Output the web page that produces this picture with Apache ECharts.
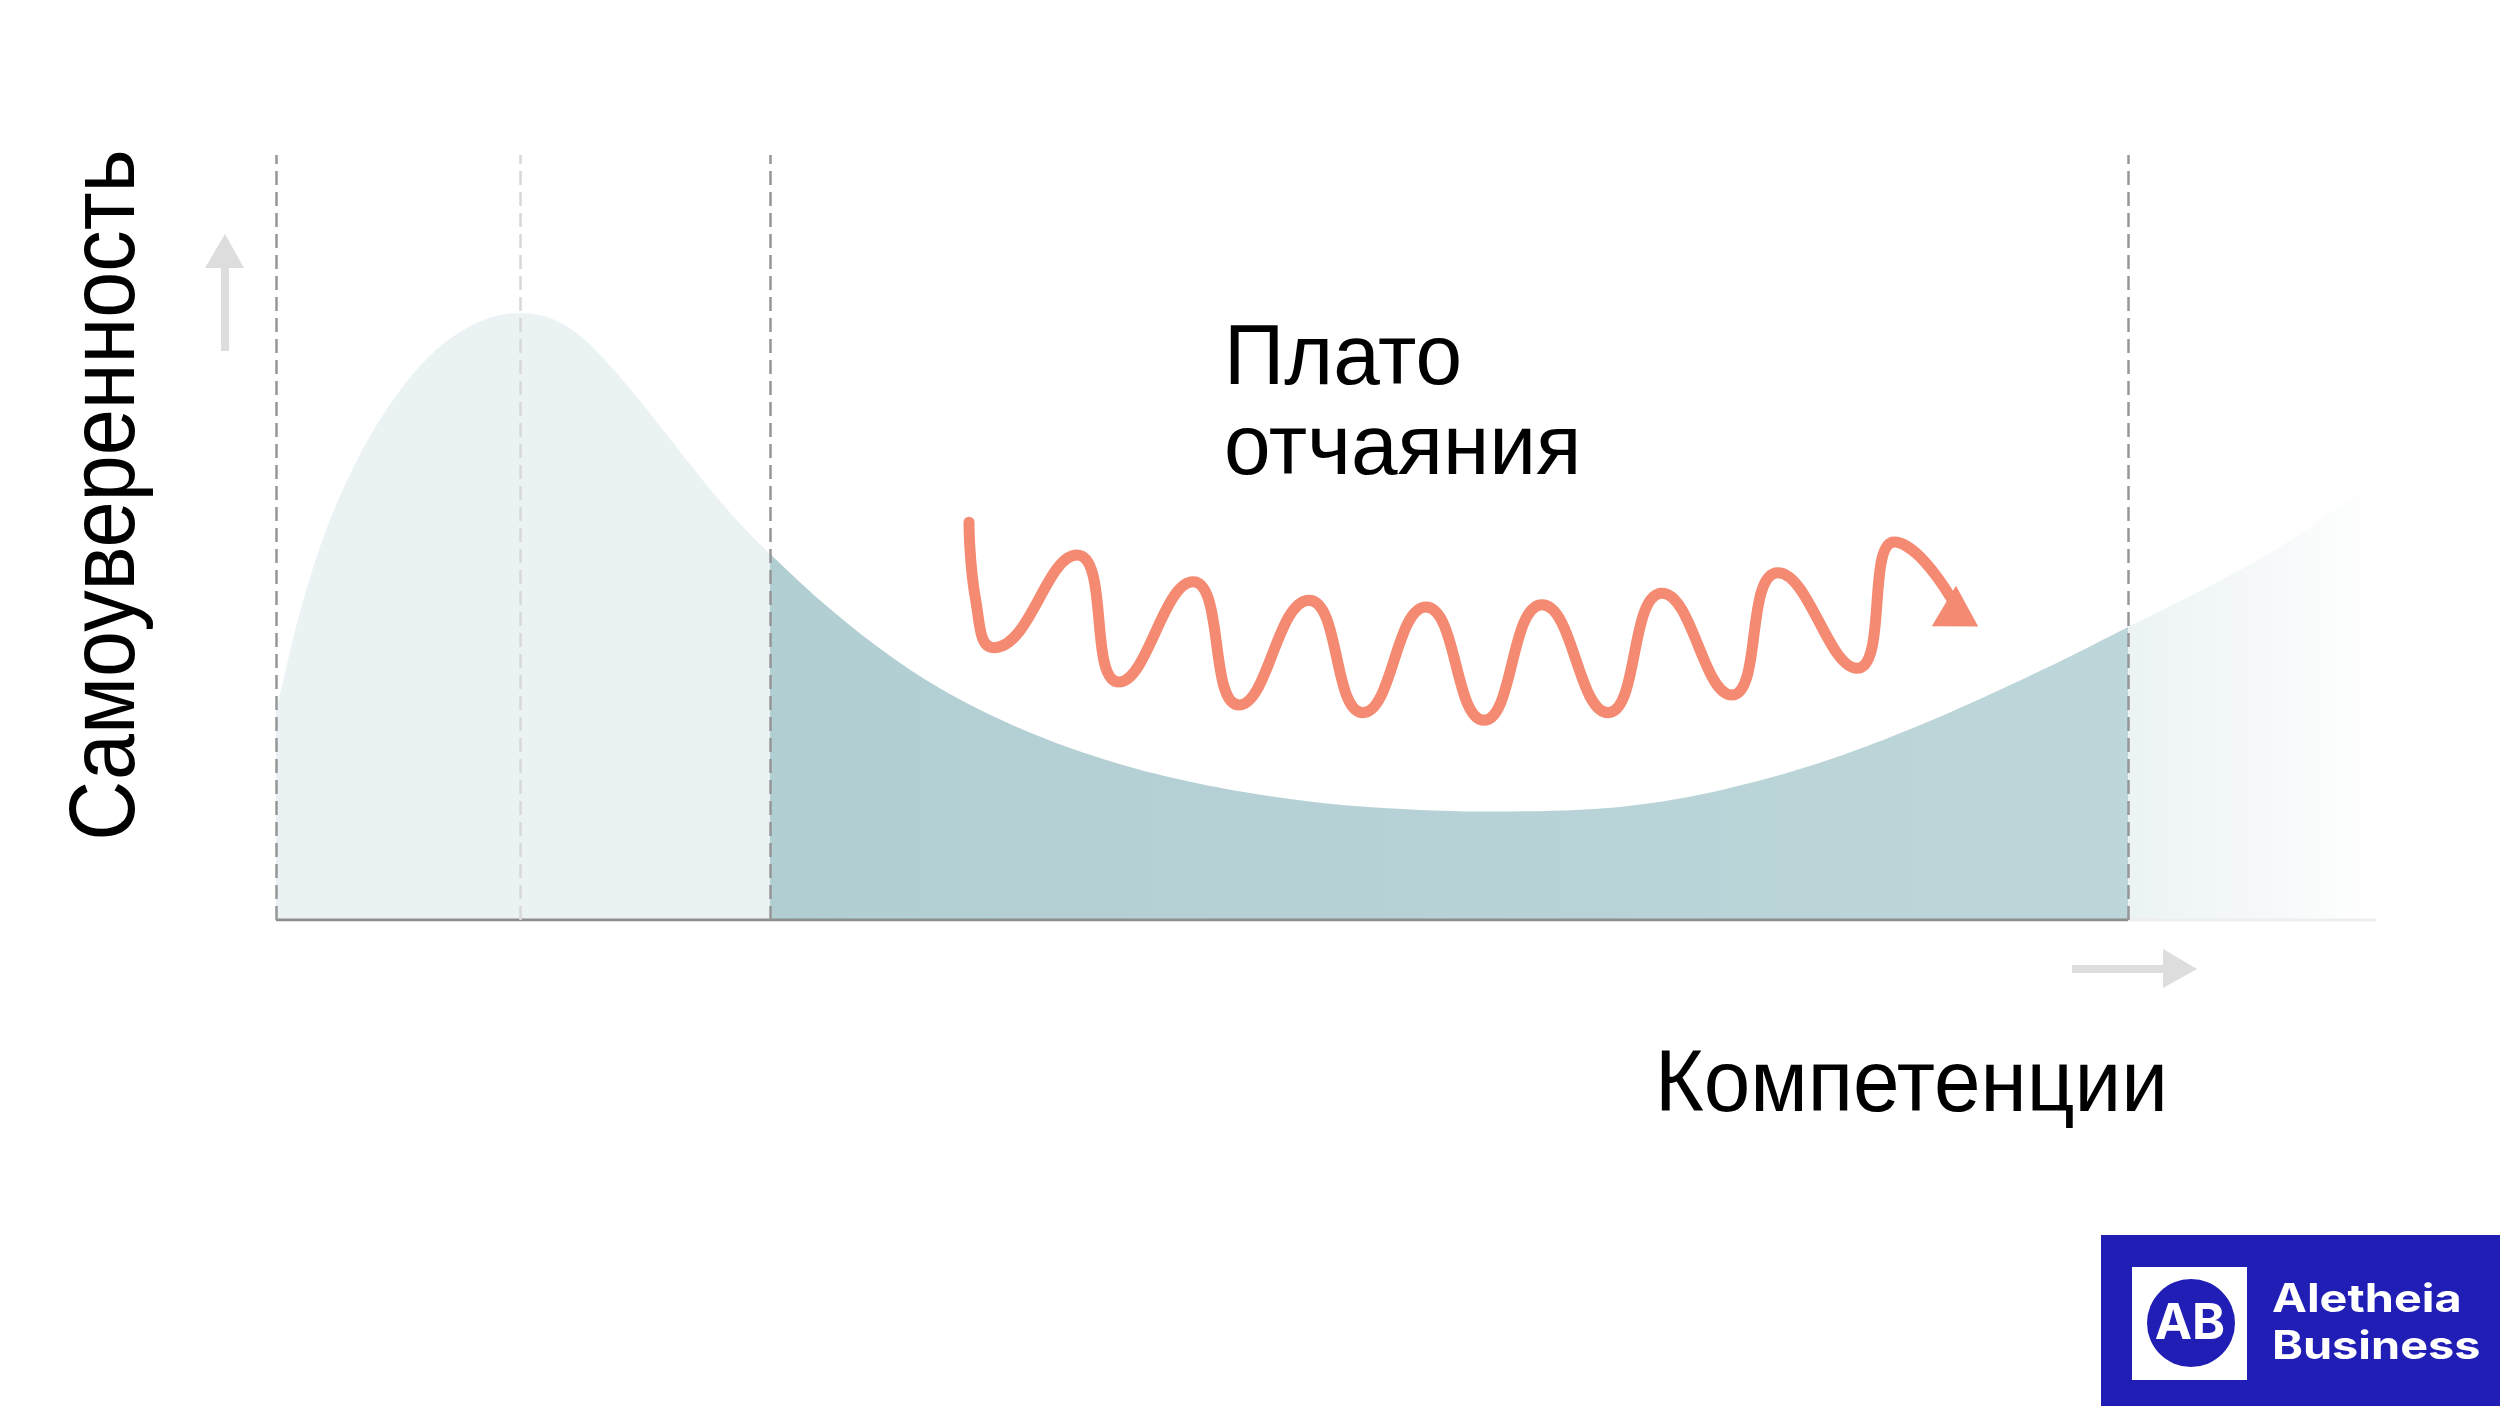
<!DOCTYPE html>
<html><head><meta charset="utf-8">
<script src="https://cdn.jsdelivr.net/npm/echarts@6/dist/echarts.min.js"></script>
<style>html,body{margin:0;padding:0;background:#fff}#c{width:2500px;height:1406px}</style>
</head><body><div id="c"></div>
<script>
// Confidence curve (x: competence 0..100, y: confidence 0..100)
const curveX = [0, 0.571, 1.143, 2.143, 3.286, 4.619, 6.143, 7.619, 9.0, 10.286, 11.619, 12.905, 14.19, 15.524, 16.905, 18.286, 19.667, 21.143, 22.333, 23.524, 26.333, 29.381, 32.429, 36.19, 40.0, 43.81, 47.619, 51.381, 57.476, 62.762, 66.571, 70.381, 74.19, 77.952, 81.762, 85.571, 88.19, 91.905, 95.571, 100];
const curveY = [27.19, 33.99, 40.26, 49.15, 56.86, 63.92, 70.07, 74.51, 77.25, 78.82, 79.35, 78.82, 76.99, 73.59, 69.28, 64.58, 59.74, 54.77, 51.11, 47.84, 40.78, 34.25, 29.02, 24.18, 20.52, 17.91, 16.08, 14.9, 14.18, 14.51, 15.75, 18.04, 21.18, 25.1, 29.67, 34.64, 38.3, 43.4, 49.02, 57.52];
// Stage boundaries (dashed verticals)
const stageDark = [0, 23.52, 88.19];
const stageLight = [11.62];
const plateauStart = 23.52, plateauEnd = 88.19;
// Wavy "plateau" arrow
const waveX = [33.0, 33.32, 34.19, 38.14, 40.14, 43.67, 45.86, 49.19, 51.76, 54.76, 57.52, 60.29, 63.43, 66.0, 69.33, 71.52, 75.29, 77.05, 78.52, 80.24];
const waveY = [52.0, 41.8, 35.6, 47.7, 31.1, 44.2, 28.1, 41.8, 27.1, 40.9, 26.1, 41.2, 27.1, 42.7, 29.4, 45.4, 32.9, 49.4, 46.8, 39.7];
// Texts
const yLabel = 'Самоуверенность';
const xLabel = 'Компетенции';
const plateauLabel = ['Плато', 'отчаяния'];
const brandShort = 'AB';
const brandLines = ['Aletheia', 'Business'];

const FONT = '"Liberation Sans", Arial, sans-serif';
const chart = echarts.init(document.getElementById('c'));

const curveData = curveX.map((x, i) => [x, curveY[i]]);
const waveData = waveX.map((x, i) => i === waveX.length - 1
  ? { value: [x, waveY[i]], symbol: 'triangle', symbolSize: [47, 40], symbolRotate: -121 }
  : [x, waveY[i]]);
const f1 = plateauStart / 100, f2 = plateauEnd / 100;

const option = {
  animation: false,
  backgroundColor: '#ffffff',
  grid: { left: 276, top: 155, width: 2100, height: 765 },
  xAxis: { type: 'value', min: 0, max: 100, show: false },
  yAxis: { type: 'value', min: 0, max: 100, show: false },
  series: [
    {
      type: 'line', data: curveData, smooth: 0.35, symbol: 'none', z: 1, silent: true,
      lineStyle: { width: 0 },
      areaStyle: {
        opacity: 1,
        color: {
          type: 'linear', x: 0, y: 0, x2: 1, y2: 0,
          colorStops: [
            { offset: 0, color: '#ebf2f4' },
            { offset: f1, color: '#ebf2f4' },
            { offset: f1 + 0.0001, color: '#b1ced2' },
            { offset: f2, color: '#bdd6da' },
            { offset: f2 + 0.0001, color: '#ecf3f5' },
            { offset: 0.95, color: 'rgba(246,249,250,1)' },
            { offset: 1, color: 'rgba(255,255,255,1)' }
          ]
        }
      }
    },
    {
      type: 'line', data: [[0, 0], [plateauEnd, 0]], symbol: 'none', z: 3, silent: true,
      lineStyle: { color: '#8e8e8e', width: 3 },
      markLine: {
        silent: true, symbol: ['none', 'none'], label: { show: false },
        data: stageDark.map(v => ({ xAxis: v, lineStyle: { color: '#969696', width: 2.5, type: [14, 7] } }))
          .concat(stageLight.map(v => ({ xAxis: v, lineStyle: { color: '#d8d8d8', width: 2.5, type: [14, 7] } })))
      }
    },
    {
      type: 'line', data: [[plateauEnd, 0], [100, 0]], symbol: 'none', z: 2, silent: true,
      lineStyle: { color: '#eeeeee', width: 3 }
    },
    {
      type: 'line', data: waveData, smooth: 0.5, symbol: 'none', z: 4, silent: true,
      lineStyle: { color: '#f48a72', width: 11, cap: 'round', join: 'round' },
      itemStyle: { color: '#f48a72' }
    }
  ],
  graphic: [
    // axis arrows
    { type: 'rect', shape: { x: 221, y: 264, width: 8, height: 87 }, style: { fill: '#dddddd' } },
    { type: 'polygon', shape: { points: [[225, 234], [244, 268], [205, 268]] }, style: { fill: '#dddddd' } },
    { type: 'rect', shape: { x: 2072, y: 965, width: 94, height: 8 }, style: { fill: '#dddddd' } },
    { type: 'polygon', shape: { points: [[2197, 969], [2163, 949], [2163, 988]] }, style: { fill: '#dddddd' } },
    // labels
    { type: 'text', x: 109, y: 495, rotation: Math.PI / 2, scaleX: 0.9,
      style: { text: yLabel, fontSize: 92, fontFamily: FONT, fill: '#000', align: 'center', verticalAlign: 'middle' } },
    { type: 'text', x: 1655, y: 1087, scaleX: 0.95,
      style: { text: xLabel, fontSize: 88, fontFamily: FONT, fill: '#000', align: 'left', verticalAlign: 'middle' } },
    { type: 'text', x: 1224, y: 315, scaleX: 0.975,
      style: { text: plateauLabel.join('\n'), fontSize: 86, lineHeight: 90, fontFamily: FONT, fill: '#000', align: 'left', verticalAlign: 'top' } },
    // logo
    { type: 'rect', shape: { x: 2101, y: 1235, width: 399, height: 171 }, style: { fill: '#201eb4' } },
    { type: 'rect', shape: { x: 2132, y: 1267, width: 115, height: 113 }, style: { fill: '#ffffff' } },
    { type: 'circle', shape: { cx: 2191, cy: 1323, r: 44 }, style: { fill: '#201eb4' } },
    { type: 'text', x: 2190, y: 1324,
      style: { text: brandShort, fontSize: 50, fontWeight: 700, fontFamily: 'Inter, sans-serif', fill: '#fff', align: 'center', verticalAlign: 'middle' } },
    { type: 'text', x: 2272, y: 1300, scaleX: 1.2,
      style: { text: brandLines[0], fontSize: 39, fontWeight: 700, fontFamily: 'Inter, sans-serif', fill: '#fff', align: 'left', verticalAlign: 'middle' } },
    { type: 'text', x: 2272, y: 1347, scaleX: 1.2,
      style: { text: brandLines[1], fontSize: 39, fontWeight: 700, fontFamily: 'Inter, sans-serif', fill: '#fff', align: 'left', verticalAlign: 'middle' } }
  ]
};
chart.setOption(option);
</script>
</body></html>
